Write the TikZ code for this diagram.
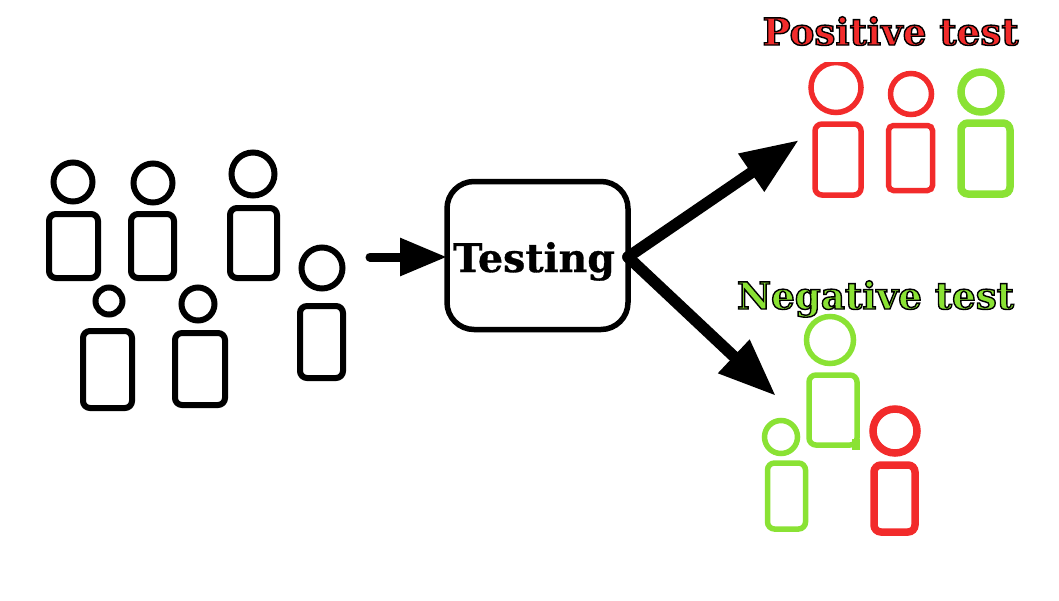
\documentclass[tikz,border=0pt]{standalone}
\usepackage{fontspec}
\setmainfont{DejaVu Serif}
\usetikzlibrary{arrows.meta}
\definecolor{tred}{HTML}{F22B2B}
\definecolor{tgreen}{HTML}{8AE234}
\newcommand{\outlined}[1]{\special{pdf:code 0 0 0 RG 2 Tr 1.4 w}#1\special{pdf:code 0 Tr}}
\newcommand{\heavier}[1]{\special{pdf:code 0 0 0 RG 2 Tr 0.3 w}#1\special{pdf:code 0 Tr}}
\tikzset{
  head/.style={draw=#1,circle,inner sep=0pt,outer sep=0pt,fill=none},
  torso/.style={draw=#1,rectangle,inner sep=0pt,outer sep=0pt,rounded corners=7pt,fill=none},
  blackl/.style={line width=6pt},
  thinl/.style={line width=5.5pt},
  thickl/.style={line width=7.5pt},
  testbox/.style={draw=black,line width=5.5pt,rectangle,rounded corners=27pt,inner sep=0pt,outer sep=0pt,minimum width=181pt,minimum height=148pt},
  title/.style={font=\fontsize{37.3}{40}\selectfont\bfseries,inner sep=0pt,anchor=base},
  bigarrow/.style={-{Triangle[length=58pt,width=43pt]},line width=11.5pt,line cap=round,black},
  smallarrow/.style={-{Triangle[length=47pt,width=36pt]},line width=9pt,line cap=round,black},
}
\begin{document}
\begin{tikzpicture}[x=1pt,y=-1pt]
\useasboundingbox (0,0) rectangle (1059,600);
% black people
\node[head=black,blackl,minimum size=39pt] (h1) at (73,182) {};
\node[torso=black,blackl,minimum width=49pt,minimum height=64pt] (b1) at (73.5,246) {};
\node[head=black,blackl,minimum size=39pt] (h2) at (153,183) {};
\node[torso=black,blackl,minimum width=43pt,minimum height=64pt] (b2) at (152.5,246) {};
\node[head=black,blackl,minimum size=43pt] (h3) at (253,174) {};
\node[torso=black,blackl,minimum width=47pt,minimum height=70pt] (b3) at (253.5,243) {};
\node[head=black,blackl,minimum size=41pt] (h4) at (322,268) {};
\node[torso=black,blackl,minimum width=43pt,minimum height=72pt] (b4) at (321.5,342) {};
\node[head=black,blackl,minimum size=27pt] (h5) at (109,301) {};
\node[torso=black,blackl,minimum width=49pt,minimum height=77pt] (b5) at (107.5,369.5) {};
\node[head=black,blackl,minimum size=33pt] (h6) at (198,304) {};
\node[torso=black,blackl,minimum width=50pt,minimum height=72pt] (b6) at (200,369) {};
% testing box
\node[testbox] (test) at (537.5,255.5) {};
\node[title,font=\fontsize{39.5}{40}\selectfont\bfseries] (testlabel) at (534,272) {\heavier{Testing}};
% arrows
\coordinate (start) at (370,257);
\coordinate (fork) at (628,257);
\coordinate (postip) at (799,140);
\coordinate (negtip) at (776,396);
\draw[smallarrow] (start) -- (test.west |- start);
\draw[bigarrow] (fork) -- (postip);
\draw[bigarrow] (fork) -- (negtip);
% positive group
\begin{scope}
\clip (780,62) rectangle (880,120);
\node[head=tred,thinl,minimum size=50pt] (rh1) at (836,87.5) {};
\end{scope}
\node[torso=tred,thinl,minimum width=46pt,minimum height=71pt] (rb1) at (838,159.5) {};
\node[head=tred,thinl,minimum size=41pt] (rh2) at (911,94) {};
\node[torso=tred,thinl,minimum width=44pt,minimum height=65pt,rounded corners=5pt] (rb2) at (910.5,158) {};
\node[head=tgreen,thickl,minimum size=40pt] (gh3) at (981,92) {};
\node[torso=tgreen,thickl,minimum width=49pt,minimum height=71pt] (gb3) at (985.5,158.5) {};
% negative group
\node[head=tgreen,thinl,minimum size=47pt] (gh1) at (830,340) {};
\node[torso=tgreen,thinl,minimum width=48pt,minimum height=70pt] (gb1) at (833,410) {};
\fill[tgreen] (852,439) rectangle (860,450);
\node[head=tgreen,thinl,minimum size=33pt] (gh2) at (781,437) {};
\node[torso=tgreen,thinl,minimum width=38pt,minimum height=66pt] (gb2) at (786.5,496) {};
\node[head=tred,thickl,minimum size=44pt] (rh3) at (895,431) {};
\node[torso=tred,thickl,minimum width=41pt,minimum height=67pt] (rb3) at (894.5,498.5) {};
% titles
\node[title,text=tred] (pos) at (890.5,45) {\outlined{Positive test}};
\node[title,text=tgreen] (neg) at (875.5,309) {\outlined{Negative test}};
\end{tikzpicture}
\end{document}
